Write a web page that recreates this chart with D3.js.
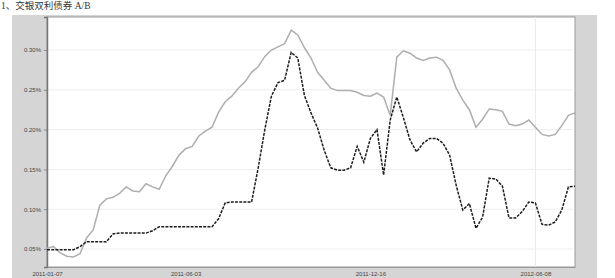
<!DOCTYPE html>
<html>
<head>
<meta charset="utf-8">
<script src="https://cdn.jsdelivr.net/npm/d3@7"></script>
<style>
  body { margin: 0; background: #fff; }
</style>
</head>
<body>
<div id="chart"></div>
<script>
// week index 0..80 for both series
const seriesA = [0.051, 0.053, 0.045, 0.041, 0.040, 0.044, 0.064, 0.074, 0.105, 0.113,
  0.115, 0.120, 0.128, 0.123, 0.122, 0.132, 0.128, 0.125, 0.142, 0.154,
  0.168, 0.176, 0.179, 0.192, 0.198, 0.203, 0.222, 0.235, 0.242, 0.252,
  0.260, 0.272, 0.279, 0.292, 0.300, 0.304, 0.308, 0.325, 0.319, 0.303,
  0.290, 0.272, 0.262, 0.252, 0.249, 0.249, 0.249, 0.247, 0.243, 0.242,
  0.246, 0.241, 0.218, 0.291, 0.299, 0.296, 0.290, 0.287, 0.290, 0.291,
  0.287, 0.275, 0.252, 0.237, 0.225, 0.203, 0.213, 0.226, 0.225, 0.223,
  0.207, 0.205, 0.207, 0.212, 0.203, 0.194, 0.192, 0.194, 0.205, 0.218,
  0.221];
const seriesB = [0.049, 0.049, 0.049, 0.049, 0.049, 0.053, 0.059, 0.059, 0.059, 0.059,
  0.069, 0.070, 0.070, 0.070, 0.070, 0.070, 0.073, 0.078, 0.078, 0.078,
  0.078, 0.078, 0.078, 0.078, 0.078, 0.078, 0.088, 0.108, 0.109, 0.109,
  0.109, 0.109, 0.152, 0.200, 0.242, 0.259, 0.262, 0.297, 0.290, 0.243,
  0.221, 0.202, 0.174, 0.152, 0.149, 0.149, 0.152, 0.179, 0.159, 0.189,
  0.200, 0.143, 0.212, 0.241, 0.215, 0.187, 0.172, 0.183, 0.189, 0.189,
  0.183, 0.168, 0.130, 0.099, 0.107, 0.076, 0.090, 0.139, 0.138, 0.129,
  0.089, 0.089, 0.097, 0.109, 0.108, 0.081, 0.080, 0.084, 0.099, 0.128,
  0.129];
const yTicks = [0.05, 0.10, 0.15, 0.20, 0.25, 0.30];
const xTickIdx = [0, 21, 49, 74];
const xTickLabels = ["2011-01-07", "2011-06-03", "2011-12-16", "2012-06-08"];

const width = 615, height = 278;
const plot = { left: 47, right: 575, top: 17, bottom: 267 };

const svg = d3.select("#chart").append("svg")
  .attr("width", width)
  .attr("height", height);

// title
svg.append("text")
  .attr("x", 1).attr("y", 9)
  .attr("font-family", "'Liberation Serif', 'Noto Sans CJK SC', serif")
  .attr("font-size", 9.5)
  .attr("fill", "#333")
  .text("1、交银双利债券 A/B");

// gray frame + white plot area
svg.append("rect")
  .attr("x", 12).attr("y", 15)
  .attr("width", 585).attr("height", 263)
  .attr("fill", "#d5d5d5");
svg.append("rect")
  .attr("x", plot.left).attr("y", plot.top)
  .attr("width", plot.right - plot.left).attr("height", plot.bottom - plot.top)
  .attr("fill", "#fff")
  .attr("stroke", "#9a9a9a")
  .attr("stroke-width", 1);

const x = d3.scaleLinear().domain([0, seriesA.length - 1]).range([plot.left, plot.right]);
const y = d3.scaleLinear().domain([0.0274, 0.3415]).range([plot.bottom, plot.top]);

// grid
svg.append("g").selectAll("line")
  .data(yTicks).enter().append("line")
  .attr("x1", plot.left).attr("x2", plot.right - 2)
  .attr("y1", d => y(d)).attr("y2", d => y(d))
  .attr("stroke", "#eeeeee");
svg.append("line")
  .attr("x1", x(74)).attr("x2", x(74))
  .attr("y1", plot.top).attr("y2", plot.bottom)
  .attr("stroke", "#eaeaea");

// axes
const yAxis = svg.append("g")
  .attr("transform", `translate(${plot.left},0)`)
  .call(d3.axisLeft(y).tickValues(yTicks).tickSize(3)
    .tickFormat(d => d.toFixed(2) + "%"));
yAxis.select(".domain").attr("stroke", "#777").attr("stroke-width", 1.5);
yAxis.selectAll(".tick line").attr("stroke", "#888");
yAxis.selectAll("text")
  .attr("font-family", "'Liberation Sans', sans-serif")
  .attr("font-size", 6)
  .attr("fill", "#444");

const xAxis = svg.append("g")
  .attr("transform", `translate(0,${plot.bottom})`)
  .call(d3.axisBottom(x).tickValues(xTickIdx).tickSize(0)
    .tickFormat((d, i) => xTickLabels[i]));
xAxis.select(".domain").attr("stroke", "#9a9a9a");
xAxis.selectAll("text")
  .attr("dy", "0.95em")
  .attr("font-family", "'Liberation Sans', sans-serif")
  .attr("font-size", 6)
  .attr("fill", "#444");

const line = d3.line()
  .x((d, i) => x(i))
  .y(d => y(d));

svg.append("path")
  .datum(seriesA)
  .attr("d", line)
  .attr("fill", "none")
  .attr("stroke", "#aeaeae")
  .attr("stroke-width", 1.5);

svg.append("path")
  .datum(seriesB)
  .attr("d", line)
  .attr("fill", "none")
  .attr("stroke", "#1e1e1e")
  .attr("stroke-width", 1.5)
  .attr("stroke-dasharray", "3,1.2");
</script>
</body>
</html>
